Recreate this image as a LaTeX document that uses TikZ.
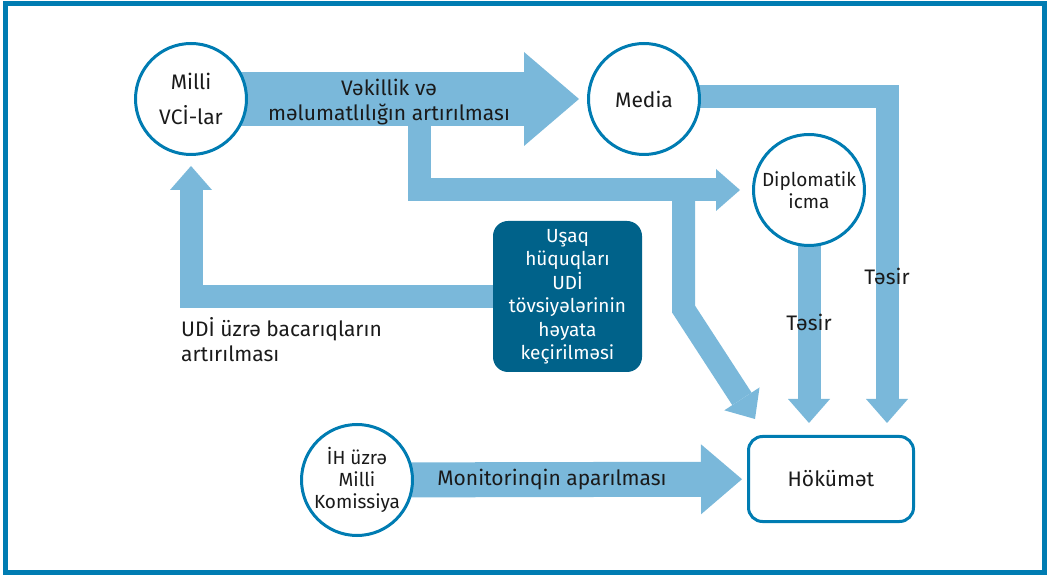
\documentclass[tikz,border=0pt]{standalone}
\usepackage{fontspec}
\setmainfont{Fira Sans}
\usetikzlibrary{arrows.meta,backgrounds}
\definecolor{frameblue}{RGB}{0,124,178}
\definecolor{flowblue}{RGB}{122,184,218}
\definecolor{boxblue}{RGB}{0,98,138}
\definecolor{ink}{RGB}{26,26,26}
\tikzstyle{actor}=[circle, draw=frameblue, line width=3pt, fill=white, minimum size=111pt, inner sep=0pt, align=center, text=ink]
\tikzstyle{govbox}=[rectangle, rounded corners=14pt, draw=frameblue, line width=3pt, fill=white, minimum width=165pt, minimum height=85pt, text=ink]
\tikzstyle{taskbox}=[rectangle, rounded corners=15pt, fill=boxblue, text=white, minimum width=149pt, minimum height=151pt, inner sep=0pt, align=center, font=\fontsize{19}{23.5}\selectfont]
\tikzstyle{flow}=[draw=flowblue, line width=23pt, line join=miter, -{Triangle[length=24pt,width=42pt,line width=0pt]}]
\tikzstyle{bigflow}=[draw=flowblue, line width=54pt, -{Triangle[length=55pt,width=94pt,line width=0pt]}]
\tikzstyle{midflow}=[draw=flowblue, line width=35pt, -{Triangle[length=41pt,width=70pt,line width=0pt]}]
\tikzstyle{lbl}=[text=ink, inner sep=0pt, align=center]

\begin{document}
\begin{tikzpicture}[x=1pt,y=1pt,font=\fontsize{21}{25}\selectfont]
    \useasboundingbox (0,0) rectangle (1047,576);
    \draw[frameblue, line width=5pt] (5.8,4) rectangle (1044,572.7);

    \node [actor, font=\fontsize{21}{35}\selectfont] (vci) at (191,477) {Milli\\VCİ-lar};
    \node [actor] (media) at (644,477) {Media};
    \node [actor, font=\fontsize{19}{22}\selectfont] (dipl) at (809,386) {Diplomatik\\icma};
    \node [actor, font=\fontsize{19}{22}\selectfont] (ihk) at (357,96) {İH üzrə\\Milli\\Komissiya};
    \node [govbox] (gov) at (831,97) {Hökümət};
    \node [taskbox] (udi) at (567.5,279.5) {Uşaq\\hüquqları\\UDİ\\tövsiyələrinin\\həyata\\keçirilməsi};

    \coordinate (split) at (419.5,476);
    \coordinate (fork) at (683.5,386);
    \coordinate (bend) at (683.5,267);
    \coordinate (govtip) at (755,157);
    \coordinate (tipR) at (887,153);

    \begin{pgfonlayer}{background}
        \path[flow, shorten >=12pt] (split) |- (dipl);
        \path[flow] (fork) -- (bend) -- (govtip);
        \path[bigflow, shorten >=8pt] (vci.center) -- (media)
            node [lbl, midway, yshift=-3pt] {Vəkillik və\\məlumatlılığın artırılması};
        \path[flow] ([yshift=2.5pt]media.center) -| (tipR)
            node [lbl, pos=0.776] {Təsir};
        \path[flow] (dipl.center) -- (dipl.center |- tipR)
            node [lbl, pos=0.567] {Təsir};
        \path[flow, shorten >=10pt] (udi.center) -| (vci);
        \path[midflow, shorten >=5pt] (ihk.center) -- (gov)
            node [lbl, midway] {Monitorinqin aparılması};
    \end{pgfonlayer}

    \node [lbl, anchor=west, align=left] (udilabel) at (181,236) {UDİ üzrə bacarıqların\\artırılması};
\end{tikzpicture}
\end{document}
